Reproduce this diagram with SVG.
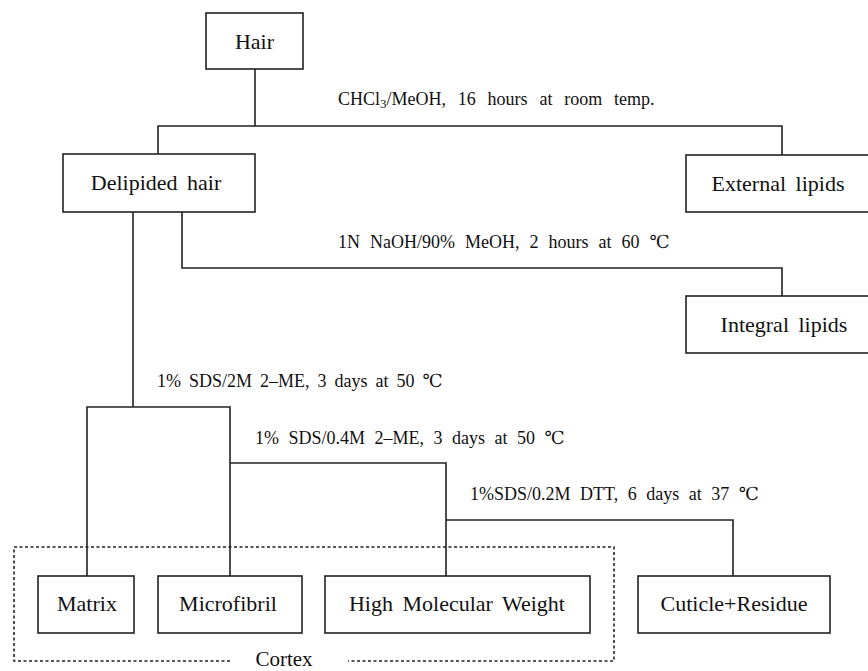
<svg xmlns="http://www.w3.org/2000/svg" width="868" height="671" viewBox="0 0 868 671">
<style>
.box{fill:#fff;stroke:#222;stroke-width:1.6}
.ln{fill:none;stroke:#222;stroke-width:1.6}
.dot{fill:none;stroke:#222;stroke-width:1.6;stroke-dasharray:3 2.5}
.nt{font-size:22px;fill:#111;text-anchor:middle;word-spacing:4px}
.lb{font-size:18px;fill:#111;word-spacing:5px}
</style>
<rect width="868" height="671" fill="#fff"/>
<g font-family="Liberation Serif, Tinos, DejaVu Serif, serif">
<g id="connectors">
<path class="ln" d="M255 69V126M158 155V126H782V155"/>
<path class="ln" d="M182 212V268H782V296"/>
<path class="ln" d="M133 212V407M87 576V407H230V576"/>
<path class="ln" d="M230 463H446V576"/>
<path class="ln" d="M446 520H733V576"/>
</g>
<g id="labels">
<text class="lb" x="338" y="105" style="word-spacing:7.3px">CHCl<tspan font-size="13" dy="3">3</tspan><tspan dy="-3">/MeOH, 16 hours at room temp.</tspan></text>
<text class="lb" x="338" y="248" style="word-spacing:5.5px">1N NaOH/90% MeOH, 2 hours at 60 ℃</text>
<text class="lb" x="157" y="387" style="word-spacing:3.5px">1% SDS/2M 2–ME, 3 days at 50 ℃</text>
<text class="lb" x="255" y="444">1% SDS/0.4M 2–ME, 3 days at 50 ℃</text>
<text class="lb" x="470" y="500">1%SDS/0.2M DTT, 6 days at 37 ℃</text>
</g>
<g id="cortex">
<path class="dot" d="M230 661H14V547H614V661H348"/>
<text class="nt" x="284" y="666" style="font-size:21px">Cortex</text>
</g>
<g id="hair"><rect class="box" x="206" y="13" width="97" height="56"/><text class="nt" x="254.5" y="49">Hair</text></g>
<g id="delipided"><rect class="box" x="63" y="154" width="192" height="58"/><text class="nt" x="156" y="190">Delipided hair</text></g>
<g id="external"><rect class="box" x="686" y="155" width="184" height="57"/><text class="nt" x="778" y="191">External lipids</text></g>
<g id="integral"><rect class="box" x="686" y="296" width="184" height="57"/><text class="nt" x="784" y="332">Integral lipids</text></g>
<g id="matrix"><rect class="box" x="38" y="576" width="96" height="57"/><text class="nt" x="87" y="611">Matrix</text></g>
<g id="microfibril"><rect class="box" x="158" y="576" width="144" height="57"/><text class="nt" x="228" y="611">Microfibril</text></g>
<g id="hmw"><rect class="box" x="325" y="576" width="265" height="57"/><text class="nt" x="457" y="611">High Molecular Weight</text></g>
<g id="cuticle"><rect class="box" x="638" y="576" width="192" height="57"/><text class="nt" x="734" y="611">Cuticle+Residue</text></g>
</g>
</svg>
